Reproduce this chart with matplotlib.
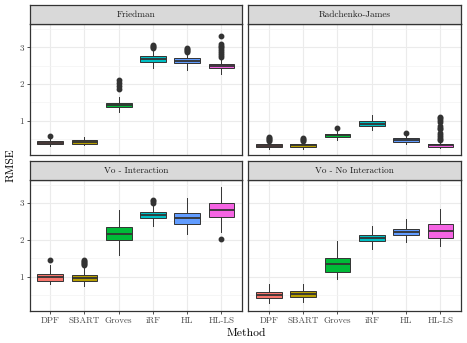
import matplotlib
matplotlib.use("Agg")
import matplotlib.pyplot as plt

plt.rcParams['font.family'] = ['cmr10', 'DejaVu Serif']
plt.rcParams['axes.formatter.use_mathtext'] = True

methods = ["DPF", "SBART", "Groves", "iRF", "HL", "HL-LS"]
colors = ["#F8766D", "#B79F00", "#00BA38", "#00BFC4", "#619CFF", "#F564E3"]
panels = ["Friedman", "Radchenko-James", "Vo - Interaction", "Vo - No Interaction"]

# rows: whisker low, q1, median, q3, whisker high
friedman = [
    [0.30, 0.35, 0.39, 0.43, 0.50],
    [0.32, 0.37, 0.41, 0.46, 0.55],
    [1.23, 1.36, 1.43, 1.48, 1.64],
    [2.44, 2.60, 2.69, 2.76, 2.94],
    [2.37, 2.56, 2.63, 2.70, 2.82],
    [2.27, 2.43, 2.49, 2.55, 2.70],
]
friedman_out = [
    [0.57],
    [],
    [1.85, 1.94, 2.03, 2.10],
    [2.97, 3.00, 3.03, 3.06],
    [2.87, 2.90, 2.93, 2.96, 2.99],
    [2.75, 2.80, 2.85, 2.90, 2.95, 3.00, 3.05, 3.10, 3.30],
]
radchenko = [
    [0.23, 0.28, 0.31, 0.35, 0.40],
    [0.23, 0.29, 0.32, 0.36, 0.42],
    [0.48, 0.55, 0.60, 0.645, 0.74],
    [0.74, 0.85, 0.92, 0.99, 1.15],
    [0.36, 0.42, 0.47, 0.53, 0.60],
    [0.24, 0.29, 0.32, 0.37, 0.43],
]
radchenko_out = [
    [0.43, 0.46, 0.49, 0.52, 0.55],
    [0.45, 0.48, 0.51, 0.53],
    [0.81],
    [],
    [0.665],
    [0.47, 0.51, 0.56, 0.61, 0.66, 0.76, 0.81, 0.86, 0.96, 1.01, 1.06, 1.11],
]
vo_int = [
    [0.79, 0.89, 0.99, 1.06, 1.30],
    [0.74, 0.89, 0.97, 1.05, 1.25],
    [1.59, 2.00, 2.17, 2.36, 2.80],
    [2.37, 2.59, 2.67, 2.75, 2.94],
    [2.17, 2.44, 2.59, 2.74, 3.14],
    [2.21, 2.62, 2.81, 3.01, 3.44],
]
vo_int_out = [
    [1.44],
    [1.30, 1.33, 1.36, 1.39, 1.42, 1.45],
    [],
    [3.01, 3.05, 3.09],
    [],
    [2.01],
]
vo_noint = [
    [0.27, 0.41, 0.49, 0.57, 0.79],
    [0.30, 0.455, 0.53, 0.61, 0.79],
    [0.94, 1.12, 1.35, 1.51, 1.96],
    [1.76, 1.96, 2.055, 2.14, 2.39],
    [1.94, 2.12, 2.21, 2.30, 2.57],
    [1.82, 2.055, 2.25, 2.42, 2.83],
]
vo_noint_out = [[], [], [], [], [], []]

stats_all = [friedman, radchenko, vo_int, vo_noint]
outs_all = [friedman_out, radchenko_out, vo_int_out, vo_noint_out]

W, H = 467, 343
fig = plt.figure(figsize=(W / 100, H / 100), dpi=100)

# panel boxes in pixels: left, top, right, bottom
boxes = [
    (29.7, 24.3, 242.0, 155.0),
    (248.3, 24.3, 461.0, 155.0),
    (29.7, 180.0, 242.0, 311.0),
    (248.3, 180.0, 461.0, 311.0),
]
strip_h = 19.0
dark = "#333333"

for k, (l, t, r, b) in enumerate(boxes):
    ax = fig.add_axes([l / W, 1 - b / H, (r - l) / W, (b - t) / H])
    ax.set_facecolor("white")

    bstats = []
    for i, row in enumerate(stats_all[k]):
        bstats.append({
            "whislo": row[0], "q1": row[1], "med": row[2],
            "q3": row[3], "whishi": row[4], "fliers": outs_all[k][i],
        })
    bp = ax.bxp(bstats, positions=range(1, 7), widths=0.75, patch_artist=True,
                showcaps=False, manage_ticks=False,
                boxprops=dict(edgecolor=dark, linewidth=0.7),
                whiskerprops=dict(color=dark, linewidth=0.7),
                medianprops=dict(color=dark, linewidth=1.3),
                flierprops=dict(marker="o", markerfacecolor=dark,
                                markeredgecolor=dark, markersize=3.2))
    for patch, c in zip(bp["boxes"], colors):
        patch.set_facecolor(c)

    ax.set_xlim(0.4, 6.6)
    ax.set_ylim(0.06, 3.63)
    ax.set_xticks(range(1, 7))
    ax.set_yticks([1, 2, 3])
    ax.set_yticks([0.5, 1.5, 2.5, 3.5], minor=True)
    ax.grid(which="major", color="#EBEBEB", lw=0.8)
    ax.grid(which="minor", axis="y", color="#F3F3F3", lw=0.5)
    ax.set_axisbelow(True)
    for sp in ax.spines.values():
        sp.set_color(dark)
        sp.set_linewidth(0.9)
    ax.tick_params(which="major", length=2.5, width=0.6, color=dark,
                   labelsize=6.5, labelcolor="#4D4D4D", pad=1.5)
    ax.tick_params(which="minor", length=0)

    if k in (0, 2):
        ax.set_yticklabels(["1", "2", "3"])
    else:
        ax.tick_params(axis="y", which="both", left=False, labelleft=False)
    if k in (2, 3):
        ax.set_xticklabels(methods)
    else:
        ax.tick_params(axis="x", bottom=False, labelbottom=False)

    sax = fig.add_axes([l / W, 1 - t / H, (r - l) / W, strip_h / H])
    sax.set_facecolor("#D9D9D9")
    sax.set_xticks([])
    sax.set_yticks([])
    for sp in sax.spines.values():
        sp.set_color(dark)
        sp.set_linewidth(0.9)
    sax.text(0.5, 0.5, panels[k], ha="center", va="center", fontsize=6.6,
             color="#1A1A1A", transform=sax.transAxes)

fig.text(246.5 / W, 1 - 333 / H, "Method", ha="center", va="center", fontsize=8.4)
fig.text(11 / W, 1 - 165 / H, "RMSE", ha="center", va="center", fontsize=8.4,
         rotation=90)

fig.savefig("out.png", dpi=100)
